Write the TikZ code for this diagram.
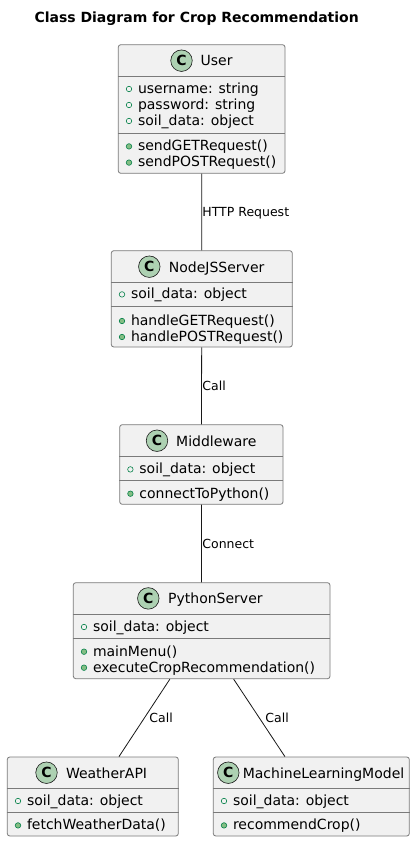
\documentclass[tikz,border=0pt]{standalone}
\usepackage{fontspec}
\setmainfont{DejaVu Sans}
\definecolor{boxfill}{HTML}{F1F1F1}
\definecolor{boxline}{HTML}{181818}
\definecolor{boxedge}{HTML}{7A7A7A}
\definecolor{iconfill}{HTML}{ADD1B2}
\definecolor{visline}{HTML}{038048}
\definecolor{visfill}{HTML}{84BE84}
\tikzset{
  classbox/.style={rectangle, draw=boxedge, line width=0.8pt, fill=boxfill, rounded corners=2.5pt, inner sep=0pt},
  sepline/.style={draw=boxedge, line width=0.8pt},
  member/.style={anchor=base west, inner sep=0pt, font=\fontsize{14}{16}\selectfont},
  visattr/.style={circle, draw=visline, line width=0.6pt, fill=boxfill, minimum size=5.5pt, inner sep=0pt},
  vismeth/.style={circle, draw=visline, line width=0.6pt, fill=visfill, minimum size=5.5pt, inner sep=0pt},
  classicon/.style={circle, draw=boxline, line width=0.6pt, fill=iconfill, minimum size=21.5pt, inner sep=0pt, font=\bfseries\fontsize{14}{14}\selectfont},
  link/.style={draw=boxline, line width=0.8pt},
  linklabel/.style={anchor=base west, inner sep=0pt, font=\fontsize{12.5}{14}\selectfont},
  titletext/.style={anchor=base west, inner sep=0pt, font=\bfseries\fontsize{14}{16}\selectfont}
}
% member: name, style, box left, baseline, text
\newcommand\mbr[5]{%
  \node[#2] (#1v) at (#3+10.7,#4-4.3) {};
  \node[member] (#1) at (#3+19.5,#4) {#5};}
% header: name, icon x, name x, baseline, text
\newcommand\hdr[5]{%
  \node[classicon] (#1i) at (#2,#4-5.3) {C};
  \node[member] (#1n) at (#3,#4) {#5};}
\begin{document}
\begin{tikzpicture}[x=1pt,y=-1pt]
\useasboundingbox[fill=white] (0,0) rectangle (415,842);

\node[titletext] (title) at (34.3,22.3) {Class Diagram for Crop Recommendation};

% boxes
\node[classbox, minimum width=166.7pt, minimum height=128.6pt] (user) at (201.65,109) {};
\node[classbox, minimum width=181pt, minimum height=96.3pt] (nodejs) at (201.8,298.85) {};
\node[classbox, minimum width=163.3pt, minimum height=79.6pt] (mid) at (201.35,464.5) {};
\node[classbox, minimum width=256.7pt, minimum height=96pt] (py) at (201.65,630.7) {};
\node[classbox, minimum width=171pt, minimum height=79pt] (wx) at (92.8,796.5) {};
\node[classbox, minimum width=196pt, minimum height=79pt] (ml) at (311.3,796.5) {};

% separators
\draw[sepline] (user.west |- 0,76) -- (user.east |- 0,76);
\draw[sepline] (user.west |- 0,133.3) -- (user.east |- 0,133.3);
\draw[sepline] (nodejs.west |- 0,282.7) -- (nodejs.east |- 0,282.7);
\draw[sepline] (nodejs.west |- 0,306) -- (nodejs.east |- 0,306);
\draw[sepline] (mid.west |- 0,456.7) -- (mid.east |- 0,456.7);
\draw[sepline] (mid.west |- 0,480.7) -- (mid.east |- 0,480.7);
\draw[sepline] (py.west |- 0,614.3) -- (py.east |- 0,614.3);
\draw[sepline] (py.west |- 0,638.7) -- (py.east |- 0,638.7);
\draw[sepline] (wx.west |- 0,788.3) -- (wx.east |- 0,788.3);
\draw[sepline] (wx.west |- 0,812.7) -- (wx.east |- 0,812.7);
\draw[sepline] (ml.west |- 0,788.3) -- (ml.east |- 0,788.3);
\draw[sepline] (ml.west |- 0,812.7) -- (ml.east |- 0,812.7);

% User
\hdr{uh}{181.5}{200.4}{66}{User}
\mbr{ua1}{visattr}{118.3}{93.3}{username: string}
\mbr{ua2}{visattr}{118.3}{109.3}{password: string}
\mbr{ua3}{visattr}{118.3}{125.3}{soil\_data: object}
\mbr{um1}{vismeth}{118.3}{150.7}{sendGETRequest()}
\mbr{um2}{vismeth}{118.3}{166.9}{sendPOSTRequest()}

% NodeJSServer
\hdr{nh}{149.3}{168.7}{272}{NodeJSServer}
\mbr{na1}{visattr}{111.3}{298.7}{soil\_data: object}
\mbr{nm1}{vismeth}{111.3}{325.3}{handleGETRequest()}
\mbr{nm2}{vismeth}{111.3}{341.3}{handlePOSTRequest()}

% Middleware
\hdr{mh}{157}{176}{446}{Middleware}
\mbr{ma1}{visattr}{119.7}{473.7}{soil\_data: object}
\mbr{mm1}{vismeth}{119.7}{498}{connectToPython()}

% PythonServer
\hdr{ph}{148.3}{168}{603.7}{PythonServer}
\mbr{pa1}{visattr}{73.3}{631.3}{soil\_data: object}
\mbr{pm1}{vismeth}{73.3}{656}{mainMenu()}
\mbr{pm2}{vismeth}{73.3}{672}{executeCropRecommendation()}

% WeatherAPI
\hdr{wh}{46.5}{65.8}{778}{WeatherAPI}
\mbr{wa1}{visattr}{7.3}{805.3}{soil\_data: object}
\mbr{wm1}{vismeth}{7.3}{829.7}{fetchWeatherData()}

% MachineLearningModel
\hdr{lh}{228.3}{242.6}{778}{MachineLearningModel}
\mbr{la1}{visattr}{213.3}{805.3}{soil\_data: object}
\mbr{lm1}{vismeth}{213.3}{829.7}{recommendCrop()}

% connectors
\draw[link] (user) -- (nodejs);
\draw[link] (nodejs) -- (mid);
\draw[link] (mid) -- (py);
\draw[link] (py) -- (wx);
\draw[link] (py) -- (ml);

\node[linklabel] (l1) at (202.2,216.7) {HTTP Request};
\node[linklabel] (l2) at (202.2,390) {Call};
\node[linklabel] (l3) at (202.2,548) {Connect};
\node[linklabel] (l4) at (149.2,722.3) {Call};
\node[linklabel] (l5) at (265.2,722.3) {Call};
\end{tikzpicture}
\end{document}
